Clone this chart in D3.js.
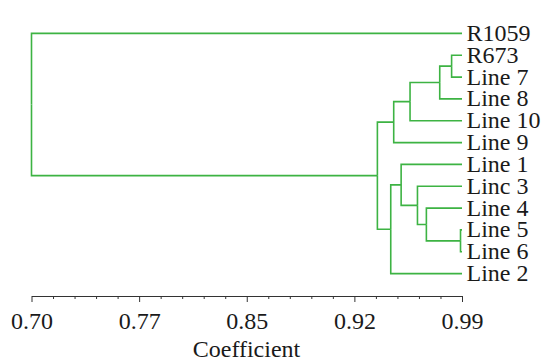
<!DOCTYPE html>
<html>
<head>
<meta charset="utf-8">
<script src="https://cdn.jsdelivr.net/npm/d3@7"></script>
<style>
  body { margin: 0; background: #fff; }
</style>
</head>
<body>
<div id="chart"></div>
<script>
// merges of the dendrogram: node id, its two children, joining coefficient
const mergeIds   = ["E", "D", "C", "B", "J", "I", "H", "G", "F", "A", "root"];
const mergeLeft  = ["R673", "E", "D", "C", "Line 5", "Line 4", "Linc 3", "Line 1", "G", "B", "R1059"];
const mergeRight = ["Line 7", "Line 8", "Line 10", "Line 9", "Line 6", "J", "I", "H", "Line 2", "F", "A"];
const mergeCoef  = [0.983, 0.975, 0.955, 0.944, 0.989, 0.966, 0.960, 0.949, 0.942, 0.933, 0.70];
const leafCoef = 0.99;

const tickValues = [0.70, 0.7725, 0.845, 0.9175, 0.99];
const tickLabels = ["0.70", "0.77", "0.85", "0.92", "0.99"];

const width = 543, height = 361;
const margin = {top: 22.5, left: 31.5};
const leafSpan = 262;
const axisY = 296;
const fontName = "Liberation Serif";

// build nested tree from merge arrays
const nodes = {};
mergeIds.forEach((id, i) => {
  const kids = [mergeLeft[i], mergeRight[i]].map(k => nodes[k] || {name: k, coef: leafCoef});
  nodes[id] = {name: id, coef: mergeCoef[i], children: kids};
});

const root = d3.hierarchy(nodes["root"]);
d3.cluster().size([leafSpan, 1]).separation(() => 1)(root);

const x = d3.scaleLinear().domain([0.70, 0.99]).range([margin.left, 462]);
const yPos = d => margin.top + d.x;

const svg = d3.select("#chart").append("svg")
  .attr("width", width)
  .attr("height", height);

// elbow links
svg.append("g")
  .selectAll("path")
  .data(root.links())
  .enter().append("path")
    .attr("d", l => "M" + x(l.source.data.coef) + "," + yPos(l.source) +
                    "V" + yPos(l.target) + "H" + x(l.target.data.coef))
    .attr("fill", "none")
    .attr("stroke", "#3db343")
    .attr("stroke-width", 1.6);

// leaf labels
svg.append("g")
  .selectAll("text")
  .data(root.leaves())
  .enter().append("text")
    .attr("x", d => x(d.data.coef) + 4.5)
    .attr("y", d => yPos(d) + 7.5)
    .attr("font-family", fontName)
    .attr("font-size", 24)
    .attr("fill", "#1a1a1a")
    .text(d => d.data.name);

// minor ticks, 4 between each pair of labelled ticks
const minor = [];
for (let i = 0; i < tickValues.length - 1; i++) {
  const step = (tickValues[i + 1] - tickValues[i]) / 5;
  for (let k = 1; k < 5; k++) minor.push(tickValues[i] + step * k);
}
svg.append("g")
  .attr("transform", "translate(0," + axisY + ")")
  .call(d3.axisBottom(x).tickValues(minor).tickSize(3).tickFormat(""))
  .call(g => g.select(".domain").remove())
  .selectAll("line").attr("stroke", "#333");

const axis = svg.append("g")
  .attr("transform", "translate(0," + axisY + ")")
  .call(d3.axisBottom(x)
    .tickValues(tickValues)
    .tickSizeInner(6)
    .tickSizeOuter(0)
    .tickPadding(10)
    .tickFormat((d, i) => tickLabels[i]));
axis.attr("font-family", fontName).attr("font-size", 24);
axis.select(".domain").attr("stroke", "#333");
axis.selectAll("line").attr("stroke", "#333");
axis.selectAll("text").attr("fill", "#1a1a1a");

svg.append("text")
  .attr("text-anchor", "middle")
  .attr("x", 246.5)
  .attr("y", 357)
  .attr("font-family", fontName)
  .attr("font-size", 24)
  .attr("fill", "#1a1a1a")
  .text("Coefficient");
</script>
</body>
</html>
